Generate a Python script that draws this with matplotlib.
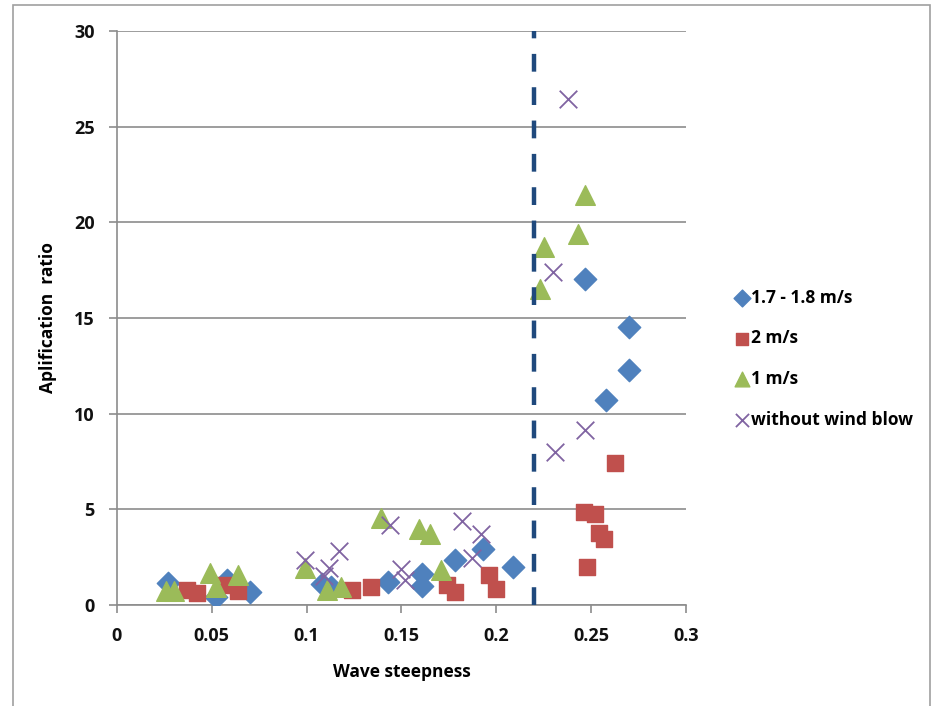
import matplotlib.pyplot as plt
from matplotlib.patches import Rectangle

# 1.7 - 1.8 m/s
x_blue = [0.027, 0.052, 0.058, 0.070, 0.108, 0.113, 0.143, 0.161, 0.161,
          0.178, 0.193, 0.209, 0.247, 0.258, 0.270, 0.270]
y_blue = [1.15, 0.4, 1.3, 0.7, 1.1, 0.95, 1.2, 1.6, 1.0,
          2.35, 2.95, 2.0, 17.05, 10.7, 14.55, 12.3]

# 2 m/s
x_red = [0.037, 0.042, 0.057, 0.064, 0.124, 0.134, 0.174, 0.178, 0.196,
         0.200, 0.246, 0.252, 0.254, 0.257, 0.248, 0.2625]
y_red = [0.8, 0.65, 1.05, 0.75, 0.8, 0.95, 1.05, 0.7, 1.55,
         0.85, 4.85, 4.75, 3.75, 3.45, 2.0, 7.4]

# 1 m/s
x_green = [0.026, 0.030, 0.049, 0.052, 0.064, 0.099, 0.111, 0.118, 0.139,
           0.159, 0.165, 0.171, 0.223, 0.225, 0.243, 0.247]
y_green = [0.75, 0.75, 1.65, 0.95, 1.55, 1.95, 0.8, 0.95, 4.55,
           3.95, 3.7, 1.85, 16.5, 18.7, 19.4, 21.45]

# without wind blow
x_purple = [0.099, 0.109, 0.112, 0.117, 0.144, 0.150, 0.152, 0.182, 0.187,
            0.192, 0.231, 0.230, 0.247, 0.238]
y_purple = [2.35, 1.5, 1.95, 2.8, 4.2, 1.9, 1.3, 4.4, 2.45,
            3.7, 8.0, 17.4, 9.15, 26.45]

grens = 0.22

fig = plt.figure(figsize=(9.32, 7.06), dpi=100)
ax = fig.add_axes([0.1255, 0.143, 0.6105, 0.813])

fig.patches.append(Rectangle((13 / 932, -0.01), 917 / 932, 1.003, transform=fig.transFigure,
                             fill=False, edgecolor='#a0a0a0', linewidth=1.2))

ax.scatter(x_blue, y_blue, marker='D', s=130, color='#4F81BD', label='1.7 - 1.8 m/s', zorder=3)
ax.scatter(x_red, y_red, marker='s', s=140, color='#C0504D', label='2 m/s', zorder=3)
ax.scatter(x_green, y_green, marker='^', s=200, color='#9BBB59', label='1 m/s', zorder=3)
ax.scatter(x_purple, y_purple, marker='x', s=160, color='#8064A2', linewidths=1.3,
           label='without wind blow', zorder=3)

ax.axvline(grens, color='#1F497D', linewidth=3.2, linestyle=(0, (4, 3.5)), zorder=4)

ax.set_xlim(0, 0.3)
ax.set_ylim(0, 30)
ax.set_xticks([0, 0.05, 0.1, 0.15, 0.2, 0.25, 0.3])
ax.set_xticklabels(['0', '0.05', '0.1', '0.15', '0.2', '0.25', '0.3'])
ax.set_yticks([0, 5, 10, 15, 20, 25, 30])
ax.grid(axis='y', color='#8c8c8c', linewidth=1.2)
ax.set_axisbelow(True)
for s in ['top', 'right']:
    ax.spines[s].set_visible(False)
for s in ['left', 'bottom']:
    ax.spines[s].set_color('#8c8c8c')
    ax.spines[s].set_linewidth(1.2)
ax.tick_params(colors='#8c8c8c', length=6, width=1.2, labelcolor='#111111', labelsize=13, pad=10)
for lab in ax.get_xticklabels() + ax.get_yticklabels():
    lab.set_fontfamily('Open Sans')
    lab.set_fontweight('bold')

ax.set_xlabel('Wave steepness', fontsize=12.5, fontweight='bold', fontfamily='Open Sans', labelpad=13)
ax.set_ylabel('Aplification  ratio', fontsize=12.5, fontweight='bold', fontfamily='Open Sans', labelpad=12)

fig.legend(loc='center left', bbox_to_anchor=(0.77, 0.492), frameon=False,
           prop={'family': 'Open Sans', 'weight': 'bold', 'size': 12.5},
           handletextpad=0.05, labelspacing=1.3, markerscale=0.75, handlelength=1.0)

fig.savefig('out.png')
